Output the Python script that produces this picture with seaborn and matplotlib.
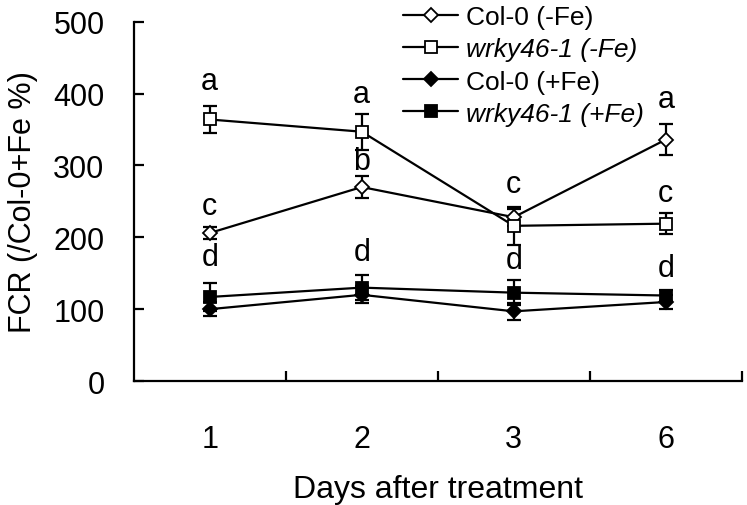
import numpy as np
import pandas as pd
import matplotlib
matplotlib.use("Agg")
import matplotlib.pyplot as plt
import seaborn as sns

days = ["1", "2", "3", "6"]
series_names = ["Col-0 (-Fe)", "wrky46-1 (-Fe)", "Col-0 (+Fe)", "wrky46-1 (+Fe)"]
col_minus = [206, 270, 228, 336]
col_minus_err = [8, 15, 12, 22]
wrky_minus = [364, 347, 216, 219]
wrky_minus_err = [19, 25, 26, 15]
col_plus = [100, 120, 97, 110]
col_plus_err = [10, 12, 12, 10]
wrky_plus = [117, 130, 123, 119]
wrky_plus_err = [20, 17, 17, 8]

letters = [["a", "c", "d"], ["a", "b", "d"], ["c", "d"], ["a", "c", "d"]]
letter_y = [[418, 243, 172], [400, 306, 179], [274, 169], [393, 262, 158]]

values = [col_minus, wrky_minus, col_plus, wrky_plus]
errors = [col_minus_err, wrky_minus_err, col_plus_err, wrky_plus_err]
markers = ["D", "s", "D", "s"]
facecolors = ["white", "white", "black", "black"]
msizes = [7.5, 8, 7.5, 8]

sns.set_style("ticks")
plt.rcParams["font.family"] = ["Liberation Sans", "DejaVu Sans"]
plt.rcParams.update({"text.color": "black", "axes.labelcolor": "black",
                     "xtick.color": "black", "ytick.color": "black",
                     "axes.edgecolor": "black"})

fig = plt.figure(figsize=(7.47, 5.06), dpi=100)
ax = fig.add_axes([0.179, 0.245, 0.814, 0.710])

pos = np.arange(len(days))
for name, vals, errs, mk, fc, ms in zip(series_names, values, errors, markers, facecolors, msizes):
    df = pd.DataFrame({"x": pos, "y": vals})
    ax.errorbar(df["x"], df["y"], yerr=errs, fmt="none", ecolor="black",
                elinewidth=1.6, capsize=5, capthick=1.6, zorder=2)
    sns.lineplot(data=df, x="x", y="y", ax=ax, color="black", linewidth=1.6,
                 marker=mk, markersize=ms, markerfacecolor=fc,
                 markeredgecolor="black", markeredgewidth=1.3, zorder=3,
                 label=name)

for i, (ls, ys) in enumerate(zip(letters, letter_y)):
    for l, y in zip(ls, ys):
        ax.text(pos[i], y, l, ha="center", va="center", fontsize=22, color="black")

ax.set_xlim(-0.5, len(days) - 0.5)
ax.set_ylim(0, 500)
ax.set_yticks(range(0, 501, 100))
ax.set_xticks(pos)
ax.set_xticklabels(days)
ax.set_xticks(np.arange(0.5, len(days), 1.0), minor=True)
ax.tick_params(axis="x", which="major", length=0, pad=31, labelsize=22)
ax.tick_params(axis="x", which="minor", direction="in", length=7, width=1.6)
ax.tick_params(axis="y", direction="in", length=7, width=1.6, pad=21, labelsize=22)
for s in ["top", "right"]:
    ax.spines[s].set_visible(False)
for s in ["left", "bottom"]:
    ax.spines[s].set_linewidth(1.6)
    ax.spines[s].set_color("black")

ax.set_xlabel("Days after treatment", fontsize=23, labelpad=14)
ax.set_ylabel("FCR (/Col-0+Fe %)", fontsize=22, labelpad=11)

leg = ax.legend(loc="upper left", bbox_to_anchor=(0.421, 1.083), frameon=False,
                fontsize=19, handlelength=2.1, labelspacing=0.31, borderpad=0,
                handletextpad=0.3)
for t in leg.get_texts():
    t.set_color("black")
    if t.get_text().startswith("wrky"):
        t.set_fontstyle("italic")

fig.savefig("out.png", dpi=100)
